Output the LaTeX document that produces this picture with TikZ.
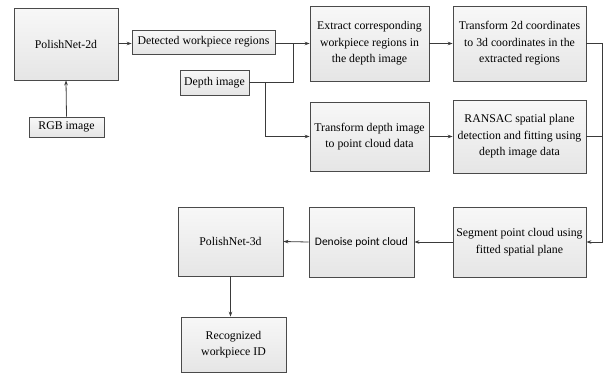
\documentclass[tikz,border=0pt]{standalone}
\usepackage{fontspec}
\setmainfont{Liberation Serif}
\newfontfamily\tnr{Liberation Serif}
\newfontfamily\calib{Carlito}
\usetikzlibrary{arrows.meta,shadows}
\definecolor{boxline}{HTML}{4A4A4A}
\definecolor{conline}{HTML}{3A3A3A}
\tikzset{
  flowbox/.style={draw=boxline, line width=0.8pt, top color=white!97!black, bottom color=black!10,
    drop shadow={shadow xshift=0.8pt, shadow yshift=-0.8pt, opacity=0.35},
    align=center, inner sep=1pt, font=\tnr\fontsize{11.8}{16.5}\selectfont},
  conn/.style={draw=conline, line width=0.8pt},
  arr/.style={conn, -{Stealth[length=5pt,width=3.6pt]}},
}
\begin{document}
\begin{tikzpicture}[x=1pt,y=-1pt]
\useasboundingbox (0,0) rectangle (607,373);
\node[flowbox, minimum width=104pt, minimum height=72pt] (p2d) at (66,44) {PolishNet-2d};
\node[flowbox, minimum width=75pt, minimum height=20pt] (rgb) at (66.5,127) {RGB image};
\node[flowbox, minimum width=143pt, minimum height=24pt] (det) at (203.5,42) {Detected workpiece regions};
\node[flowbox, minimum width=69pt, minimum height=25pt] (dep) at (214.5,82.5) {Depth image};
\node[flowbox, minimum width=119pt, minimum height=75pt] (ext) at (369.5,43.5) {Extract corresponding\\workpiece regions in\\the depth image};
\node[flowbox, minimum width=133pt, minimum height=75pt] (t2d) at (519.5,43.5) {Transform 2d coordinates\\to 3d coordinates in the\\extracted regions};
\node[flowbox, minimum width=119pt, minimum height=69pt] (tdp) at (369.5,136.5) {Transform depth image\\to point cloud data};
\node[flowbox, minimum width=133pt, minimum height=73pt] (ran) at (519.5,136.5) {RANSAC spatial plane\\detection and fitting using\\depth image data};
\node[flowbox, minimum width=133pt, minimum height=70pt] (seg) at (519.5,242) {Segment point cloud using\\fitted spatial plane};
\node[flowbox, minimum width=105pt, minimum height=70pt, font=\calib\fontsize{11.5}{15}\selectfont] (den) at (361.5,242) {Denoise point cloud};
\node[flowbox, minimum width=105pt, minimum height=69pt] (p3d) at (230.5,241.5) {PolishNet-3d};
\node[flowbox, minimum width=105pt, minimum height=55pt] (rec) at (233.5,344.5) {Recognized\\workpiece ID};
\coordinate (j1) at (293,43.5);
\coordinate (j2) at (265,82.5);
\coordinate (j3) at (602,43.5);
\draw[arr] (rgb.north) -- (p2d.south);
\draw[arr] (p2d.east |- 0,43.5) -- (det.west |- 0,43.5);
\draw[arr] (det.east |- 0,43.5) -- (ext.west);
\draw[conn] (dep.east) -| (j1);
\draw[arr] (j2) |- (tdp.west);
\draw[arr] (ext.east) -- (t2d.west);
\draw[arr] (tdp.east) -- (ran.west);
\draw[arr] (t2d.east) -- (j3) |- (seg.east);
\draw[conn] (ran.east) -- (ran.east -| j3);
\draw[arr] (seg.west) -- (den.east);
\draw[arr] (den.west) -- (p3d.east);
\draw[arr] (p3d.south) -- (p3d.south |- rec.north);
\end{tikzpicture}
\end{document}
